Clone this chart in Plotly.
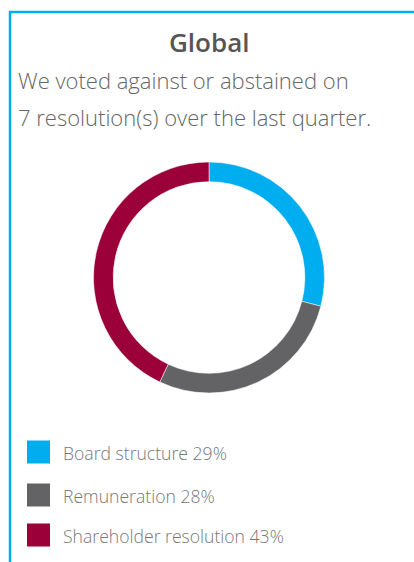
import plotly.graph_objects as go

W, H = 414, 562

categories = ["Board structure", "Remuneration", "Shareholder resolution"]
percents = [29, 28, 43]
colors = ["#00AEEF", "#636366", "#9B0039"]
title_text = "Global"
subtitle_lines = ["We voted against or abstained on", "7 resolution(s) over the last quarter."]

FONT = "Open Sans"

def py(px):
    return 1 - px / H

def px_x(px):
    return px / W

fig = go.Figure()
fig.add_trace(go.Pie(
    labels=categories,
    values=percents,
    marker=dict(colors=colors, line=dict(color="white", width=0.5)),
    hole=0.83,
    sort=False,
    direction="clockwise",
    rotation=0,
    textinfo="none",
    showlegend=False,
    domain=dict(x=[px_x(93), px_x(325)], y=[py(393), py(162)]),
))

annotations = []
annotations.append(dict(text=title_text, x=px_x(209), y=py(42), xref="paper", yref="paper",
                        xanchor="center", yanchor="middle", showarrow=False,
                        font=dict(family=FONT, size=26, color="#555555", weight=600)))
for i, line in enumerate(subtitle_lines):
    annotations.append(dict(text=line, x=px_x(16), y=py(80 + 37 * i), xref="paper", yref="paper",
                            xanchor="left", yanchor="middle", showarrow=False,
                            font=dict(family=FONT, size=22, color="#666666", weight=300)))

shapes = []
# border lines
shapes.append(dict(type="line", xref="paper", yref="paper", x0=px_x(9), x1=1, y0=py(12), y1=py(12),
                   line=dict(color="#00AEEF", width=2.5)))
shapes.append(dict(type="line", xref="paper", yref="paper", x0=px_x(10), x1=px_x(10), y0=py(11), y1=0,
                   line=dict(color="#00AEEF", width=2.5)))

legend_centers = [452, 495, 535]
for cat, pct, col, cy in zip(categories, percents, colors, legend_centers):
    shapes.append(dict(type="rect", xref="paper", yref="paper",
                       x0=px_x(27), x1=px_x(50), y0=py(cy + 11.5), y1=py(cy - 11.5),
                       fillcolor=col, line=dict(width=0)))
    annotations.append(dict(text=f"{cat} {pct}%", x=px_x(61), y=py(cy + 1), xref="paper", yref="paper",
                            xanchor="left", yanchor="middle", showarrow=False,
                            font=dict(family=FONT, size=17.6, color="#777777", weight=300)))

fig.update_layout(
    width=W, height=H,
    margin=dict(l=0, r=0, t=0, b=0),
    paper_bgcolor="white", plot_bgcolor="white",
    annotations=annotations, shapes=shapes,
    showlegend=False,
)

fig.write_html("out.html", config={"displayModeBar": False},
               post_script="document.body.style.margin='0';")
